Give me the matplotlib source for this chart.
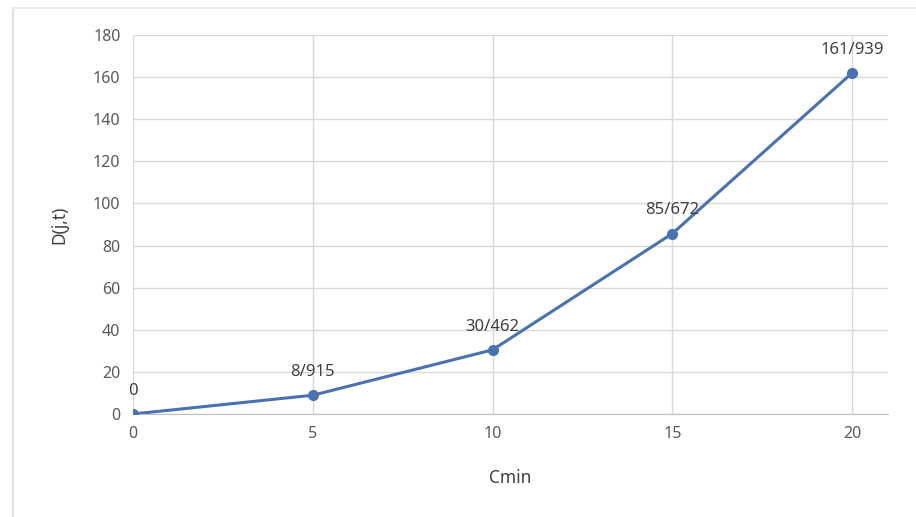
import matplotlib
matplotlib.use('Agg')
import matplotlib.pyplot as plt
from matplotlib.lines import Line2D

# data
cmin = [0, 5, 10, 15, 20]
d_values = [0, 8.915, 30.462, 85.672, 161.939]
point_labels = ['0', '8/915', '30/462', '85/672', '161/939']
x_ticks = [0, 5, 10, 15, 20]
y_ticks = [0, 20, 40, 60, 80, 100, 120, 140, 160, 180]

plt.rcParams['font.family'] = ['Noto Sans', 'DejaVu Sans']

fig = plt.figure(figsize=(9.16, 5.17), dpi=100)
ax = fig.add_axes([133/916, 1 - 414/517, (888 - 133)/916, (414 - 35)/517])

# light frame of the chart area
fig.add_artist(Line2D([13/916, 13/916], [0, 1 - 8/517], color='#d9d9d9', lw=1.2))
fig.add_artist(Line2D([13/916, 1], [1 - 8/517, 1 - 8/517], color='#e6e6e6', lw=1.2))

ax.plot(cmin, d_values, color='#4a72b0', lw=2.2, marker='o', markersize=7, zorder=3)

for x, y, lab in zip(cmin, d_values, point_labels):
    ax.annotate(lab, (x, y), xytext=(0, 11), textcoords='offset points',
                ha='center', va='bottom', fontsize=12, color='#404040')

ax.set_xlim(0, 21)
ax.set_ylim(0, 180)
ax.set_xticks(x_ticks)
ax.set_yticks(y_ticks)
ax.grid(True, color='#d9d9d9', lw=1)
ax.set_axisbelow(True)
for s in ['top', 'right', 'left']:
    ax.spines[s].set_visible(False)
ax.spines['bottom'].set_color('#bfbfbf')
ax.tick_params(length=0, labelsize=11.5, labelcolor='#595959', pad=9)

ax.set_xlabel('Cmin', fontsize=12.5, color='#404040', labelpad=19)
ax.set_ylabel('D(j,t)', fontsize=12.5, color='#404040', labelpad=18)

fig.savefig('out.png', dpi=100)
